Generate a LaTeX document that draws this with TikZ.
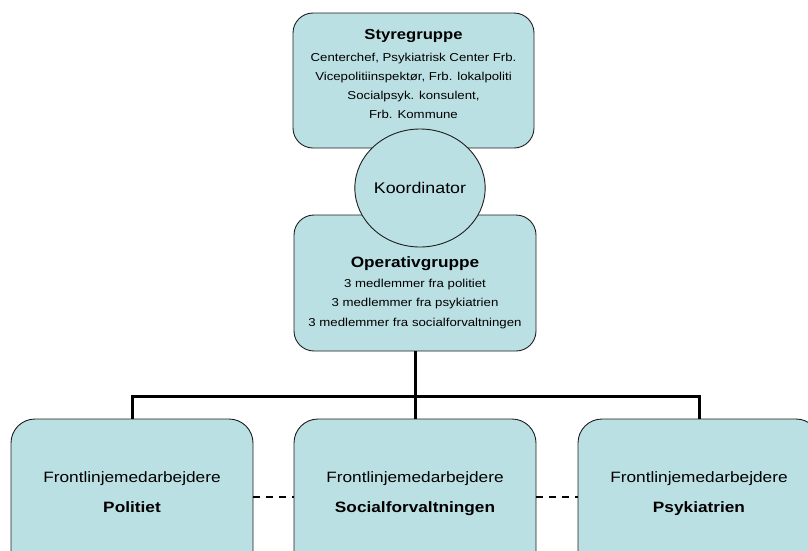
\documentclass[tikz,border=0pt]{standalone}
\usepackage{fontspec}
\setmainfont{Liberation Sans}[FakeStretch=1.15]
\usetikzlibrary{positioning,shapes.geometric}
\definecolor{boxfill}{RGB}{187,224,227}
\definecolor{boxline}{RGB}{30,30,30}

\begin{document}
\begin{tikzpicture}[x=1pt,y=-1pt,
	groupbox/.style={draw=boxline,line width=0.9pt,fill=boxfill,rounded corners=20pt,inner sep=0pt},
	frontbox/.style={groupbox,rounded corners=24pt,minimum width=242pt,minimum height=156pt},
	koordbox/.style={ellipse,draw=boxline,line width=0.9pt,fill=boxfill,inner sep=0pt,minimum width=104pt,minimum height=118pt,font=\fontsize{15.5}{18}\selectfont},
	titletxt/.style={font=\fontsize{14.5}{17}\selectfont\bfseries,inner sep=0pt},
	smalltxt/.style={font=\fontsize{11.5}{19}\selectfont,align=center,inner sep=0pt},
	fronttxt/.style={font=\fontsize{15}{30}\selectfont,align=center,inner sep=0pt},
	tree/.style={line width=3pt},
	sideline/.style={line width=1.5pt,dash pattern=on 7pt off 6pt}]
	\useasboundingbox (0,0) rectangle (808,550);
	\clip (0,0) rectangle (808,550);
	% groups
	\node[groupbox,minimum width=241pt,minimum height=135pt] (styre) at (413.5,80.5) {};
	\node[groupbox,minimum width=242pt,minimum height=136pt] (opgr) at (415,283) {};
	\node[koordbox] (koord) at (420,188) {Koordinator};
	\node[titletxt] (styretitle) at (413.5,35.5) {Styregruppe};
	\node[smalltxt] (styrebody) at (413.5,85.4) {Centerchef, Psykiatrisk Center Frb.\\Vicepolitiinspektør, Frb. lokalpoliti\\Socialpsyk. konsulent,\\Frb. Kommune};
	\node[titletxt,font=\fontsize{15}{17}\selectfont\bfseries] (opgrtitle) at (415,263.5) {Operativgruppe};
	\node[smalltxt,font=\fontsize{11.5}{19.5}\selectfont] (opgrbody) at (415,303.6) {3 medlemmer fra politiet\\3 medlemmer fra psykiatrien\\3 medlemmer fra socialforvaltningen};
	% front line
	\node[frontbox] (frontpol) at (132,497) {};
	\node[frontbox] (frontsoc) at (415,497) {};
	\node[frontbox] (frontpsyk) at (699,497) {};
	\node[fronttxt] (poltxt) at ([yshift=3.5pt]frontpol.center) {Frontlinjemedarbejdere\\\textbf{Politiet}\vphantom{g}};
	\node[fronttxt] (soctxt) at ([yshift=3.5pt]frontsoc.center) {Frontlinjemedarbejdere\\\textbf{Socialforvaltningen}};
	\node[fronttxt] (psyktxt) at ([yshift=3.5pt]frontpsyk.center) {Frontlinjemedarbejdere\\\textbf{Psykiatrien}\vphantom{g}};
	% connectors
	\coordinate (fork) at (415,396);
	\draw[tree] (opgr.south) -- (fork);
	\draw[tree] (frontpol.north) |- (fork) -| (frontpsyk.north);
	\draw[tree] (fork) -- (frontsoc.north);
	\draw[sideline] (frontpol.east) -- (frontsoc.west);
	\draw[sideline] (frontsoc.east) -- (frontpsyk.west);
\end{tikzpicture}
\end{document}
